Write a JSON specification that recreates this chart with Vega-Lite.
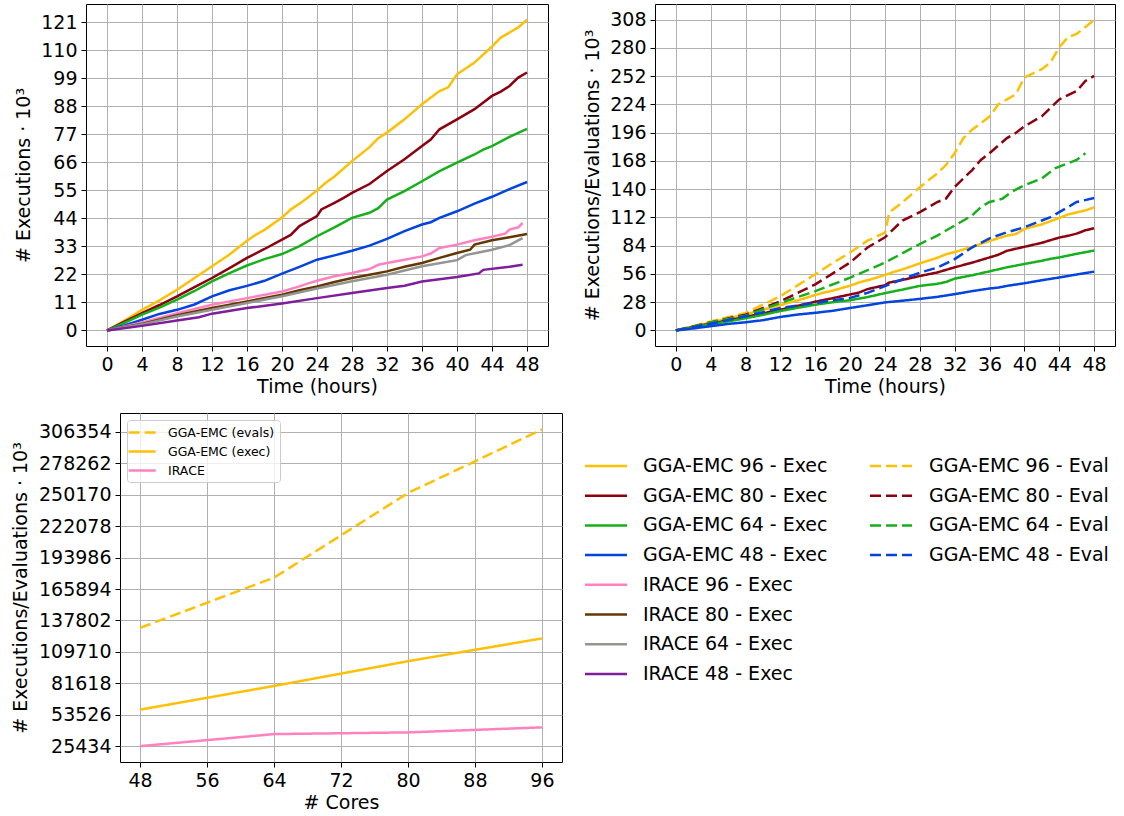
{
  "$schema": "https://vega.github.io/schema/vega-lite/v6.json",
  "padding": {"left": 10, "top": 3, "right": 5, "bottom": 3},
  "config": {
    "font": "DejaVu Sans",
    "view": {"stroke": "black", "strokeWidth": 1},
    "axis": {"labelFontSize": 19, "titleFontSize": 19, "labelColor": "black", "titleColor": "black", "titleFontWeight": "normal", "gridColor": "#b0b0b0", "gridWidth": 1, "tickColor": "black", "tickSize": 5, "domain": false, "labelPadding": 4, "labelFont": "DejaVu Sans", "titleFont": "DejaVu Sans"},
    "axisY": {"titlePadding": 7},
    "axisX": {"titlePadding": 3},
    "legend": {"labelFont": "DejaVu Sans", "labelColor": "black", "labelLimit": 400}
  },
  "datasets": {
    "ts": [
      {"series":"GGA-EMC 96 - Exec","t":0,"v":0},{"series":"GGA-EMC 96 - Exec","t":2,"v":3.9},{"series":"GGA-EMC 96 - Exec","t":4,"v":8.1},{"series":"GGA-EMC 96 - Exec","t":6,"v":11.8},{"series":"GGA-EMC 96 - Exec","t":8,"v":16},{"series":"GGA-EMC 96 - Exec","t":10,"v":20.6},{"series":"GGA-EMC 96 - Exec","t":12,"v":25.2},{"series":"GGA-EMC 96 - Exec","t":14,"v":29.8},{"series":"GGA-EMC 96 - Exec","t":16,"v":35.2},{"series":"GGA-EMC 96 - Exec","t":17,"v":37.6},{"series":"GGA-EMC 96 - Exec","t":18,"v":39.5},{"series":"GGA-EMC 96 - Exec","t":20,"v":44.4},{"series":"GGA-EMC 96 - Exec","t":21,"v":47.5},{"series":"GGA-EMC 96 - Exec","t":22,"v":49.8},{"series":"GGA-EMC 96 - Exec","t":23,"v":52.3},{"series":"GGA-EMC 96 - Exec","t":24,"v":55},{"series":"GGA-EMC 96 - Exec","t":25,"v":58},{"series":"GGA-EMC 96 - Exec","t":26,"v":60.5},{"series":"GGA-EMC 96 - Exec","t":28,"v":66.5},{"series":"GGA-EMC 96 - Exec","t":30,"v":72},{"series":"GGA-EMC 96 - Exec","t":31,"v":75.5},{"series":"GGA-EMC 96 - Exec","t":32,"v":77.7},{"series":"GGA-EMC 96 - Exec","t":34,"v":82.9},{"series":"GGA-EMC 96 - Exec","t":36,"v":88.8},{"series":"GGA-EMC 96 - Exec","t":38,"v":94},{"series":"GGA-EMC 96 - Exec","t":39,"v":95.5},{"series":"GGA-EMC 96 - Exec","t":40,"v":100.6},{"series":"GGA-EMC 96 - Exec","t":42,"v":105.2},{"series":"GGA-EMC 96 - Exec","t":44,"v":111.5},{"series":"GGA-EMC 96 - Exec","t":45,"v":115},{"series":"GGA-EMC 96 - Exec","t":46,"v":117},{"series":"GGA-EMC 96 - Exec","t":47,"v":119},{"series":"GGA-EMC 96 - Exec","t":48,"v":122},
      {"series":"GGA-EMC 80 - Exec","t":0,"v":0},{"series":"GGA-EMC 80 - Exec","t":2,"v":3.5},{"series":"GGA-EMC 80 - Exec","t":4,"v":6.8},{"series":"GGA-EMC 80 - Exec","t":6,"v":10},{"series":"GGA-EMC 80 - Exec","t":8,"v":13.4},{"series":"GGA-EMC 80 - Exec","t":10,"v":17},{"series":"GGA-EMC 80 - Exec","t":12,"v":20.6},{"series":"GGA-EMC 80 - Exec","t":14,"v":24.5},{"series":"GGA-EMC 80 - Exec","t":16,"v":28.5},{"series":"GGA-EMC 80 - Exec","t":18,"v":32},{"series":"GGA-EMC 80 - Exec","t":20,"v":35.7},{"series":"GGA-EMC 80 - Exec","t":21,"v":37.5},{"series":"GGA-EMC 80 - Exec","t":22,"v":41},{"series":"GGA-EMC 80 - Exec","t":24,"v":44.9},{"series":"GGA-EMC 80 - Exec","t":24.5,"v":47.5},{"series":"GGA-EMC 80 - Exec","t":26,"v":50.1},{"series":"GGA-EMC 80 - Exec","t":27,"v":52},{"series":"GGA-EMC 80 - Exec","t":28,"v":54},{"series":"GGA-EMC 80 - Exec","t":30,"v":57.5},{"series":"GGA-EMC 80 - Exec","t":32,"v":62.6},{"series":"GGA-EMC 80 - Exec","t":34,"v":67.2},{"series":"GGA-EMC 80 - Exec","t":36,"v":72.4},{"series":"GGA-EMC 80 - Exec","t":37,"v":75},{"series":"GGA-EMC 80 - Exec","t":38,"v":79},{"series":"GGA-EMC 80 - Exec","t":40,"v":82.9},{"series":"GGA-EMC 80 - Exec","t":42,"v":86.9},{"series":"GGA-EMC 80 - Exec","t":44,"v":92.1},{"series":"GGA-EMC 80 - Exec","t":45,"v":93.8},{"series":"GGA-EMC 80 - Exec","t":46,"v":96},{"series":"GGA-EMC 80 - Exec","t":47,"v":99.3},{"series":"GGA-EMC 80 - Exec","t":48,"v":101.3},
      {"series":"GGA-EMC 64 - Exec","t":0,"v":0},{"series":"GGA-EMC 64 - Exec","t":2,"v":3},{"series":"GGA-EMC 64 - Exec","t":4,"v":6.2},{"series":"GGA-EMC 64 - Exec","t":6,"v":9},{"series":"GGA-EMC 64 - Exec","t":8,"v":12.1},{"series":"GGA-EMC 64 - Exec","t":10,"v":15.5},{"series":"GGA-EMC 64 - Exec","t":12,"v":19.3},{"series":"GGA-EMC 64 - Exec","t":14,"v":22.5},{"series":"GGA-EMC 64 - Exec","t":16,"v":25.5},{"series":"GGA-EMC 64 - Exec","t":18,"v":28},{"series":"GGA-EMC 64 - Exec","t":20,"v":30},{"series":"GGA-EMC 64 - Exec","t":22,"v":33.1},{"series":"GGA-EMC 64 - Exec","t":24,"v":37},{"series":"GGA-EMC 64 - Exec","t":26,"v":40.5},{"series":"GGA-EMC 64 - Exec","t":28,"v":44.2},{"series":"GGA-EMC 64 - Exec","t":30,"v":46.2},{"series":"GGA-EMC 64 - Exec","t":31,"v":48},{"series":"GGA-EMC 64 - Exec","t":32,"v":51.4},{"series":"GGA-EMC 64 - Exec","t":34,"v":54.7},{"series":"GGA-EMC 64 - Exec","t":36,"v":58.6},{"series":"GGA-EMC 64 - Exec","t":38,"v":62.6},{"series":"GGA-EMC 64 - Exec","t":40,"v":65.9},{"series":"GGA-EMC 64 - Exec","t":42,"v":69.1},{"series":"GGA-EMC 64 - Exec","t":43,"v":71},{"series":"GGA-EMC 64 - Exec","t":44,"v":72.4},{"series":"GGA-EMC 64 - Exec","t":46,"v":76},{"series":"GGA-EMC 64 - Exec","t":48,"v":79.2},
      {"series":"GGA-EMC 48 - Exec","t":0,"v":0},{"series":"GGA-EMC 48 - Exec","t":2,"v":2},{"series":"GGA-EMC 48 - Exec","t":4,"v":4.2},{"series":"GGA-EMC 48 - Exec","t":6,"v":6.5},{"series":"GGA-EMC 48 - Exec","t":8,"v":8.1},{"series":"GGA-EMC 48 - Exec","t":10,"v":10.2},{"series":"GGA-EMC 48 - Exec","t":12,"v":13.4},{"series":"GGA-EMC 48 - Exec","t":14,"v":15.8},{"series":"GGA-EMC 48 - Exec","t":16,"v":17.5},{"series":"GGA-EMC 48 - Exec","t":18,"v":19.5},{"series":"GGA-EMC 48 - Exec","t":20,"v":22.3},{"series":"GGA-EMC 48 - Exec","t":22,"v":25},{"series":"GGA-EMC 48 - Exec","t":24,"v":27.8},{"series":"GGA-EMC 48 - Exec","t":26,"v":29.5},{"series":"GGA-EMC 48 - Exec","t":28,"v":31.3},{"series":"GGA-EMC 48 - Exec","t":30,"v":33.3},{"series":"GGA-EMC 48 - Exec","t":32,"v":36},{"series":"GGA-EMC 48 - Exec","t":34,"v":39},{"series":"GGA-EMC 48 - Exec","t":36,"v":41.6},{"series":"GGA-EMC 48 - Exec","t":37,"v":42.5},{"series":"GGA-EMC 48 - Exec","t":38,"v":44.2},{"series":"GGA-EMC 48 - Exec","t":40,"v":46.8},{"series":"GGA-EMC 48 - Exec","t":42,"v":49.8},{"series":"GGA-EMC 48 - Exec","t":44,"v":52.5},{"series":"GGA-EMC 48 - Exec","t":46,"v":55.5},{"series":"GGA-EMC 48 - Exec","t":48,"v":58.3},
      {"series":"IRACE 96 - Exec","t":0,"v":0},{"series":"IRACE 96 - Exec","t":4,"v":3.1},{"series":"IRACE 96 - Exec","t":8,"v":6.8},{"series":"IRACE 96 - Exec","t":12,"v":10.1},{"series":"IRACE 96 - Exec","t":16,"v":12.7},{"series":"IRACE 96 - Exec","t":20,"v":15.3},{"series":"IRACE 96 - Exec","t":22,"v":17.3},{"series":"IRACE 96 - Exec","t":23,"v":18.5},{"series":"IRACE 96 - Exec","t":24,"v":19.5},{"series":"IRACE 96 - Exec","t":26,"v":21.3},{"series":"IRACE 96 - Exec","t":28,"v":22.6},{"series":"IRACE 96 - Exec","t":30,"v":24.1},{"series":"IRACE 96 - Exec","t":31,"v":25.8},{"series":"IRACE 96 - Exec","t":32,"v":26.5},{"series":"IRACE 96 - Exec","t":34,"v":27.8},{"series":"IRACE 96 - Exec","t":36,"v":29.1},{"series":"IRACE 96 - Exec","t":37,"v":30.2},{"series":"IRACE 96 - Exec","t":38,"v":32.4},{"series":"IRACE 96 - Exec","t":40,"v":33.7},{"series":"IRACE 96 - Exec","t":42,"v":35.4},{"series":"IRACE 96 - Exec","t":44,"v":36.8},{"series":"IRACE 96 - Exec","t":45.5,"v":38},{"series":"IRACE 96 - Exec","t":46,"v":39.6},{"series":"IRACE 96 - Exec","t":47,"v":40.5},{"series":"IRACE 96 - Exec","t":47.5,"v":42.2},
      {"series":"IRACE 80 - Exec","t":0,"v":0},{"series":"IRACE 80 - Exec","t":4,"v":2.6},{"series":"IRACE 80 - Exec","t":8,"v":6},{"series":"IRACE 80 - Exec","t":12,"v":8.8},{"series":"IRACE 80 - Exec","t":16,"v":11.4},{"series":"IRACE 80 - Exec","t":20,"v":14},{"series":"IRACE 80 - Exec","t":22,"v":15.8},{"series":"IRACE 80 - Exec","t":24,"v":17.3},{"series":"IRACE 80 - Exec","t":26,"v":19},{"series":"IRACE 80 - Exec","t":28,"v":20.6},{"series":"IRACE 80 - Exec","t":30,"v":21.9},{"series":"IRACE 80 - Exec","t":32,"v":23.2},{"series":"IRACE 80 - Exec","t":34,"v":25},{"series":"IRACE 80 - Exec","t":36,"v":26.5},{"series":"IRACE 80 - Exec","t":38,"v":28.5},{"series":"IRACE 80 - Exec","t":40,"v":30.4},{"series":"IRACE 80 - Exec","t":41.5,"v":31.7},{"series":"IRACE 80 - Exec","t":42,"v":33.7},{"series":"IRACE 80 - Exec","t":44,"v":35.4},{"series":"IRACE 80 - Exec","t":46,"v":36.6},{"series":"IRACE 80 - Exec","t":48,"v":37.9},
      {"series":"IRACE 64 - Exec","t":0,"v":0},{"series":"IRACE 64 - Exec","t":4,"v":2.4},{"series":"IRACE 64 - Exec","t":8,"v":5.5},{"series":"IRACE 64 - Exec","t":12,"v":8.1},{"series":"IRACE 64 - Exec","t":16,"v":10.8},{"series":"IRACE 64 - Exec","t":20,"v":13.4},{"series":"IRACE 64 - Exec","t":24,"v":16.5},{"series":"IRACE 64 - Exec","t":28,"v":19.3},{"series":"IRACE 64 - Exec","t":30,"v":20.6},{"series":"IRACE 64 - Exec","t":32,"v":21.9},{"series":"IRACE 64 - Exec","t":36,"v":25.2},{"series":"IRACE 64 - Exec","t":40,"v":27.6},{"series":"IRACE 64 - Exec","t":41,"v":29.6},{"series":"IRACE 64 - Exec","t":44,"v":31.7},{"series":"IRACE 64 - Exec","t":46,"v":33.5},{"series":"IRACE 64 - Exec","t":47,"v":35.4},{"series":"IRACE 64 - Exec","t":47.5,"v":36.3},
      {"series":"IRACE 48 - Exec","t":0,"v":0},{"series":"IRACE 48 - Exec","t":4,"v":1.8},{"series":"IRACE 48 - Exec","t":8,"v":3.9},{"series":"IRACE 48 - Exec","t":10.5,"v":5.2},{"series":"IRACE 48 - Exec","t":12,"v":6.6},{"series":"IRACE 48 - Exec","t":16,"v":8.8},{"series":"IRACE 48 - Exec","t":20,"v":10.6},{"series":"IRACE 48 - Exec","t":24,"v":12.7},{"series":"IRACE 48 - Exec","t":28,"v":14.7},{"series":"IRACE 48 - Exec","t":32,"v":16.7},{"series":"IRACE 48 - Exec","t":34,"v":17.6},{"series":"IRACE 48 - Exec","t":36,"v":19.2},{"series":"IRACE 48 - Exec","t":40,"v":21},{"series":"IRACE 48 - Exec","t":42.5,"v":22.4},{"series":"IRACE 48 - Exec","t":43,"v":23.8},{"series":"IRACE 48 - Exec","t":46,"v":25},{"series":"IRACE 48 - Exec","t":47.5,"v":25.8},
      {"series":"GGA-EMC 96 - Eval","t":0,"v":0},{"series":"GGA-EMC 96 - Eval","t":4,"v":9},{"series":"GGA-EMC 96 - Eval","t":8,"v":17.3},{"series":"GGA-EMC 96 - Eval","t":12,"v":34},{"series":"GGA-EMC 96 - Eval","t":16,"v":55.7},{"series":"GGA-EMC 96 - Eval","t":18,"v":67},{"series":"GGA-EMC 96 - Eval","t":20,"v":77.3},{"series":"GGA-EMC 96 - Eval","t":22,"v":89},{"series":"GGA-EMC 96 - Eval","t":24,"v":97},{"series":"GGA-EMC 96 - Eval","t":24.5,"v":117},{"series":"GGA-EMC 96 - Eval","t":26,"v":127},{"series":"GGA-EMC 96 - Eval","t":28,"v":142},{"series":"GGA-EMC 96 - Eval","t":30,"v":155.7},{"series":"GGA-EMC 96 - Eval","t":31,"v":164},{"series":"GGA-EMC 96 - Eval","t":32,"v":175.7},{"series":"GGA-EMC 96 - Eval","t":33,"v":190.7},{"series":"GGA-EMC 96 - Eval","t":34,"v":199},{"series":"GGA-EMC 96 - Eval","t":36,"v":212},{"series":"GGA-EMC 96 - Eval","t":37,"v":224},{"series":"GGA-EMC 96 - Eval","t":38,"v":229},{"series":"GGA-EMC 96 - Eval","t":39,"v":234},{"series":"GGA-EMC 96 - Eval","t":40,"v":250.7},{"series":"GGA-EMC 96 - Eval","t":42,"v":259},{"series":"GGA-EMC 96 - Eval","t":43,"v":265.7},{"series":"GGA-EMC 96 - Eval","t":44,"v":280.7},{"series":"GGA-EMC 96 - Eval","t":45,"v":290.7},{"series":"GGA-EMC 96 - Eval","t":46,"v":294},{"series":"GGA-EMC 96 - Eval","t":47,"v":300.7},{"series":"GGA-EMC 96 - Eval","t":48,"v":308},
      {"series":"GGA-EMC 80 - Eval","t":0,"v":0},{"series":"GGA-EMC 80 - Eval","t":4,"v":8},{"series":"GGA-EMC 80 - Eval","t":8,"v":15.7},{"series":"GGA-EMC 80 - Eval","t":12,"v":29},{"series":"GGA-EMC 80 - Eval","t":16,"v":45.7},{"series":"GGA-EMC 80 - Eval","t":20,"v":67.3},{"series":"GGA-EMC 80 - Eval","t":22,"v":82.3},{"series":"GGA-EMC 80 - Eval","t":24,"v":92.3},{"series":"GGA-EMC 80 - Eval","t":25,"v":100.7},{"series":"GGA-EMC 80 - Eval","t":26,"v":109},{"series":"GGA-EMC 80 - Eval","t":28,"v":117.3},{"series":"GGA-EMC 80 - Eval","t":30,"v":127.3},{"series":"GGA-EMC 80 - Eval","t":31,"v":130.7},{"series":"GGA-EMC 80 - Eval","t":32,"v":142.3},{"series":"GGA-EMC 80 - Eval","t":34,"v":159},{"series":"GGA-EMC 80 - Eval","t":35,"v":169},{"series":"GGA-EMC 80 - Eval","t":36,"v":175.7},{"series":"GGA-EMC 80 - Eval","t":38,"v":190.7},{"series":"GGA-EMC 80 - Eval","t":39,"v":195.7},{"series":"GGA-EMC 80 - Eval","t":40,"v":202.3},{"series":"GGA-EMC 80 - Eval","t":42,"v":212.3},{"series":"GGA-EMC 80 - Eval","t":44,"v":229},{"series":"GGA-EMC 80 - Eval","t":46,"v":237.3},{"series":"GGA-EMC 80 - Eval","t":47,"v":247.3},{"series":"GGA-EMC 80 - Eval","t":48,"v":252.3},
      {"series":"GGA-EMC 64 - Eval","t":0,"v":0},{"series":"GGA-EMC 64 - Eval","t":4,"v":8},{"series":"GGA-EMC 64 - Eval","t":8,"v":14.7},{"series":"GGA-EMC 64 - Eval","t":12,"v":27.3},{"series":"GGA-EMC 64 - Eval","t":16,"v":39},{"series":"GGA-EMC 64 - Eval","t":20,"v":52.3},{"series":"GGA-EMC 64 - Eval","t":24,"v":67.3},{"series":"GGA-EMC 64 - Eval","t":28,"v":85.7},{"series":"GGA-EMC 64 - Eval","t":30,"v":94},{"series":"GGA-EMC 64 - Eval","t":32,"v":104},{"series":"GGA-EMC 64 - Eval","t":34,"v":114},{"series":"GGA-EMC 64 - Eval","t":35,"v":122.3},{"series":"GGA-EMC 64 - Eval","t":36,"v":127.3},{"series":"GGA-EMC 64 - Eval","t":37.5,"v":130.7},{"series":"GGA-EMC 64 - Eval","t":38.5,"v":137.3},{"series":"GGA-EMC 64 - Eval","t":40,"v":144},{"series":"GGA-EMC 64 - Eval","t":41,"v":147.3},{"series":"GGA-EMC 64 - Eval","t":42,"v":150.7},{"series":"GGA-EMC 64 - Eval","t":43.5,"v":160.7},{"series":"GGA-EMC 64 - Eval","t":45,"v":165.7},{"series":"GGA-EMC 64 - Eval","t":46,"v":169},{"series":"GGA-EMC 64 - Eval","t":47,"v":175.7},
      {"series":"GGA-EMC 48 - Eval","t":0,"v":0},{"series":"GGA-EMC 48 - Eval","t":4,"v":6.7},{"series":"GGA-EMC 48 - Eval","t":8,"v":14},{"series":"GGA-EMC 48 - Eval","t":12,"v":22.3},{"series":"GGA-EMC 48 - Eval","t":16,"v":27.3},{"series":"GGA-EMC 48 - Eval","t":20,"v":32.3},{"series":"GGA-EMC 48 - Eval","t":22,"v":37.3},{"series":"GGA-EMC 48 - Eval","t":24,"v":44},{"series":"GGA-EMC 48 - Eval","t":26,"v":50.7},{"series":"GGA-EMC 48 - Eval","t":28,"v":57.3},{"series":"GGA-EMC 48 - Eval","t":30,"v":62.3},{"series":"GGA-EMC 48 - Eval","t":32,"v":70.7},{"series":"GGA-EMC 48 - Eval","t":34,"v":82.3},{"series":"GGA-EMC 48 - Eval","t":36,"v":91.3},{"series":"GGA-EMC 48 - Eval","t":38,"v":97.3},{"series":"GGA-EMC 48 - Eval","t":40,"v":102.3},{"series":"GGA-EMC 48 - Eval","t":42,"v":109},{"series":"GGA-EMC 48 - Eval","t":43,"v":112.3},{"series":"GGA-EMC 48 - Eval","t":44,"v":117.3},{"series":"GGA-EMC 48 - Eval","t":46,"v":127.3},{"series":"GGA-EMC 48 - Eval","t":48,"v":131.3}
    ],
    "cores": [
      {"series":"GGA-EMC (evals)","cores":48,"v":131204},{"series":"GGA-EMC (evals)","cores":64,"v":176024},{"series":"GGA-EMC (evals)","cores":80,"v":251679},{"series":"GGA-EMC (evals)","cores":96,"v":308500},
      {"series":"GGA-EMC (exec)","cores":48,"v":58062},{"series":"GGA-EMC (exec)","cores":64,"v":79216},{"series":"GGA-EMC (exec)","cores":80,"v":101358},{"series":"GGA-EMC (exec)","cores":96,"v":121707},
      {"series":"IRACE","cores":48,"v":25434},{"series":"IRACE","cores":64,"v":36191},{"series":"IRACE","cores":80,"v":37715},{"series":"IRACE","cores":96,"v":42197}
    ]
  },
  "resolve": {"scale": {"color": "independent", "strokeDash": "independent", "stroke": "independent"}},
  "columns": 1,
  "align": "none",
  "spacing": 15,
  "concat": [
    {
      "spacing": 34,
      "resolve": {"scale": {"color": "independent", "strokeDash": "independent", "stroke": "independent"}},
      "hconcat": [
        {
          "width": 462, "height": 342,
          "data": {"name": "ts"},
          "transform": [{"filter": "indexof(datum.series, 'Exec') >= 0"}],
          "mark": {"type": "line", "strokeWidth": 2.5},
          "encoding": {
            "x": {"field": "t", "type": "quantitative", "scale": {"domain": [-2.4, 50.4], "nice": false, "zero": false}, "axis": {"values": [0,4,8,12,16,20,24,28,32,36,40,44,48], "title": "Time (hours)"}},
            "y": {"field": "v", "type": "quantitative", "scale": {"domain": [-6.1, 128.2], "nice": false, "zero": false}, "axis": {"values": [0,11,22,33,44,55,66,77,88,99,110,121], "title": "# Executions · 10³"}},
            "color": {"field": "series", "type": "nominal", "legend": null,
              "scale": {"domain": ["GGA-EMC 96 - Exec","GGA-EMC 80 - Exec","GGA-EMC 64 - Exec","GGA-EMC 48 - Exec","IRACE 96 - Exec","IRACE 80 - Exec","IRACE 64 - Exec","IRACE 48 - Exec"],
                        "range": ["#fcc006","#8c000f","#15b01a","#0343df","#ff81c0","#653700","#929591","#7e1e9c"]}}
          }
        },
        {
          "width": 460, "height": 342,
          "data": {"name": "ts"},
          "transform": [{"filter": "indexof(datum.series, 'GGA') == 0"}],
          "mark": {"type": "line", "strokeWidth": 2.5},
          "encoding": {
            "x": {"field": "t", "type": "quantitative", "scale": {"domain": [-2.4, 50.4], "nice": false, "zero": false}, "axis": {"values": [0,4,8,12,16,20,24,28,32,36,40,44,48], "title": "Time (hours)"}},
            "y": {"field": "v", "type": "quantitative", "scale": {"domain": [-15.4, 323.6], "nice": false, "zero": false}, "axis": {"values": [0,28,56,84,112,140,168,196,224,252,280,308], "title": "# Executions/Evaluations · 10³"}},
            "color": {"field": "series", "type": "nominal", "legend": null,
              "scale": {"domain": ["GGA-EMC 96 - Exec","GGA-EMC 80 - Exec","GGA-EMC 64 - Exec","GGA-EMC 48 - Exec","GGA-EMC 96 - Eval","GGA-EMC 80 - Eval","GGA-EMC 64 - Eval","GGA-EMC 48 - Eval"],
                        "range": ["#fcc006","#8c000f","#15b01a","#0343df","#fcc006","#8c000f","#15b01a","#0343df"]}},
            "strokeDash": {"field": "series", "type": "nominal", "legend": null,
              "scale": {"domain": ["GGA-EMC 96 - Exec","GGA-EMC 80 - Exec","GGA-EMC 64 - Exec","GGA-EMC 48 - Exec","GGA-EMC 96 - Eval","GGA-EMC 80 - Eval","GGA-EMC 64 - Eval","GGA-EMC 48 - Eval"],
                        "range": [[1,0],[1,0],[1,0],[1,0],[11,5],[11,5],[11,5],[11,5]]}}
          }
        }
      ]
    },
    {
      "spacing": -80,
      "resolve": {"scale": {"color": "independent", "strokeDash": "independent", "stroke": "independent"}},
      "hconcat": [
        {
          "width": 4, "height": 349,
          "view": {"stroke": null},
          "data": {"name": "cores"},
          "transform": [{"filter": "datum.v < 0"}],
          "mark": {"type": "point"},
          "encoding": {
            "x": {"field": "cores", "type": "quantitative", "axis": null, "scale": {"domain": [0, 1]}},
            "y": {"field": "v", "type": "quantitative", "axis": null, "scale": {"domain": [0, 1]}}
          }
        },
        {
          "width": 442, "height": 349,
          "data": {"name": "cores"},
          "mark": {"type": "line", "strokeWidth": 2.5},
          "encoding": {
            "x": {"field": "cores", "type": "quantitative", "scale": {"domain": [45.6, 98.4], "nice": false, "zero": false}, "axis": {"values": [48,56,64,72,80,88,96], "title": "# Cores"}},
            "y": {"field": "v", "type": "quantitative", "scale": {"domain": [11254, 323223], "nice": false, "zero": false}, "axis": {"values": [25434,53526,81618,109710,137802,165894,193986,222078,250170,278262,306354], "format": "d", "title": "# Executions/Evaluations · 10³", "titlePadding": 8}},
            "color": {"field": "series", "type": "nominal",
              "scale": {"domain": ["GGA-EMC (evals)","GGA-EMC (exec)","IRACE"], "range": ["#fcc006","#fcc006","#ff81c0"]},
              "legend": {"title": null, "orient": "top-left", "offset": 7, "labelFontSize": 12.5, "symbolType": "M-1.8,0H2.7", "symbolSize": 144, "symbolStrokeWidth": 2.5, "fillColor": "rgba(255,255,255,0.8)", "strokeColor": "#cccccc", "cornerRadius": 3, "padding": 5, "rowPadding": 5, "labelOffset": 21}},
            "strokeDash": {"field": "series", "type": "nominal",
              "scale": {"domain": ["GGA-EMC (evals)","GGA-EMC (exec)","IRACE"], "range": [[11,5],[1,0],[1,0]]},
              "legend": {"title": null, "orient": "top-left", "offset": 7, "labelFontSize": 12.5, "symbolType": "M-1.8,0H2.7", "symbolSize": 144, "symbolStrokeWidth": 2.5, "fillColor": "rgba(255,255,255,0.8)", "strokeColor": "#cccccc", "cornerRadius": 3, "padding": 5, "rowPadding": 5, "labelOffset": 21}}
          }
        },
        {
          "width": 560, "height": 349,
          "view": {"stroke": null},
          "data": {"name": "ts"},
          "transform": [{"filter": "datum.t > 1000"}],
          "resolve": {"scale": {"color": "independent", "stroke": "independent"}},
          "layer": [
            {
              "mark": {"type": "line", "strokeWidth": 2.5},
              "encoding": {
                "x": {"field": "t", "type": "quantitative", "axis": null, "scale": {"domain": [0, 1]}},
                "y": {"field": "v", "type": "quantitative", "axis": null, "scale": {"domain": [0, 1]}},
                "color": {"field": "series", "type": "nominal",
                  "scale": {"domain": ["GGA-EMC 96 - Exec","GGA-EMC 80 - Exec","GGA-EMC 64 - Exec","GGA-EMC 48 - Exec","IRACE 96 - Exec","IRACE 80 - Exec","IRACE 64 - Exec","IRACE 48 - Exec"],
                            "range": ["#fcc006","#8c000f","#15b01a","#0343df","#ff81c0","#653700","#929591","#7e1e9c"]},
                  "legend": {"title": null, "orient": "none", "legendX": 11, "legendY": 42, "padding": 0, "symbolType": "M0,0H4.42", "symbolSize": 361, "symbolStrokeWidth": 2.5, "labelFontSize": 19, "labelOffset": 47, "rowPadding": 8.7}}
              }
            },
            {
              "mark": {"type": "line", "strokeWidth": 2.5, "strokeDash": [11, 5]},
              "encoding": {
                "x": {"field": "t", "type": "quantitative", "axis": null, "scale": {"domain": [0, 1]}},
                "y": {"field": "v", "type": "quantitative", "axis": null, "scale": {"domain": [0, 1]}},
                "stroke": {"field": "series", "type": "nominal",
                  "scale": {"domain": ["GGA-EMC 96 - Eval","GGA-EMC 80 - Eval","GGA-EMC 64 - Eval","GGA-EMC 48 - Eval"],
                            "range": ["#fcc006","#8c000f","#15b01a","#0343df"]},
                  "legend": {"title": null, "orient": "none", "legendX": 296, "legendY": 42, "padding": 0, "symbolType": "M0,0H4.42", "symbolSize": 361, "symbolStrokeWidth": 2.5, "symbolDash": [11, 5], "labelFontSize": 19, "labelOffset": 48, "rowPadding": 8.7}}
              }
            }
          ]
        }
      ]
    }
  ]
}
